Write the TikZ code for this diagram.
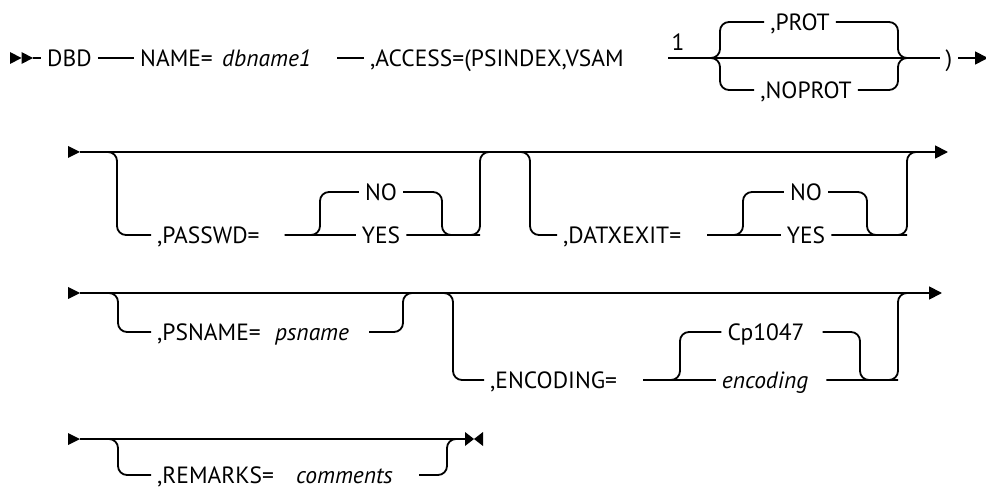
\documentclass[tikz,border=0pt]{standalone}
\usepackage{fontspec}
\setmainfont{PT Sans}
\usetikzlibrary{arrows.meta}
\tikzset{
  rail/.style={line width=1.8pt, rounded corners=9pt},
  railend/.style={rail, -{Triangle[length=13pt,width=13pt]}},
  kwbox/.style={anchor=west, inner xsep=6pt, inner ysep=0pt,
    text height=16.5pt, text depth=0pt, font=\fontsize{23.5}{26}\selectfont},
  varbox/.style={kwbox, font=\fontsize{23.5}{26}\selectfont\itshape},
  optbox/.style={kwbox, anchor=center},
  startmark/.pic={\fill (0,-6) -- (11.5,0) -- (0,6) -- cycle;
    \fill (11.5,-6) -- (23,0) -- (11.5,6) -- cycle;},
  arrowmark/.pic={\fill (0,-6) -- (12,0) -- (0,6) -- cycle;},
  endmark/.pic={\fill (0,-7) -- (9,0) -- (0,7) -- cycle;
    \fill (18,-7) -- (9,0) -- (18,7) -- cycle;}
}
\begin{document}
\begin{tikzpicture}[x=1pt, y=-1pt]
  \useasboundingbox (0,0) rectangle (986,489);

  % first line
  \pic at (10,58) {startmark};
  \coordinate (r1s) at (33,58);
  \node[kwbox] (dbd) at (41,58) {DBD};
  \node[kwbox] (name) at (134,58) {NAME=};
  \node[varbox] (dbname) at (216,58) {dbname1};
  \node[kwbox] (access) at (364,58) {,ACCESS=(PSINDEX,VSAM};
  \coordinate (fn) at (668,58);
  \node[optbox] (note) at (678,42) {1};
  \node[optbox] (prot) at (800,22) {,PROT};
  \node[optbox] (noprot) at (806,90) {,NOPROT};
  \coordinate (pt) at (720,22);
  \coordinate (pb) at (720,90);
  \coordinate (rb) at (898,58);
  \node[optbox] (paren) at (949,58) {)};
  \coordinate (r1e) at (988,58);

  \draw[rail] (r1s) -- (dbd);
  \draw[rail] (dbd) -- (name);
  \draw[rail, shorten <=20pt] (dbname) -- (access);
  \draw[rail] (fn) -- (paren);
  \draw[rail] (fn) -| (pt) -- (prot);
  \draw[rail] (fn) -| (pb) -- (noprot);
  \draw[rail] (prot) -| (rb) -- (paren);
  \draw[rail] (noprot) -| (rb) -- (paren);
  \draw[railend] (paren) -- (r1e);

  % second line
  \pic at (68,152) {arrowmark};
  \coordinate (r2s) at (80,152);
  \coordinate (r2e) at (948,152);
  \draw[railend] (r2s) -- (r2e);

  \coordinate (pwl) at (117,235);
  \node[kwbox] (passwd) at (151,235) {,PASSWD=};
  \node[optbox] (pwno) at (381,192) {NO};
  \node[optbox] (pwyes) at (381,235) {YES};
  \coordinate (pwa) at (320,192);
  \coordinate (pwb) at (442,235);
  \coordinate (pwr) at (480,235);
  \coordinate (pwj) at (492,152);
  \draw[rail] (r2s) -| (pwl) -- (passwd);
  \draw[rail, shorten <=19pt] (passwd) -- (pwyes);
  \draw[rail, shorten <=19pt] (passwd) -| (pwa) -- (pwno);
  \draw[rail] (pwno) -| (pwb) -- (pwr);
  \draw[rail] (pwyes) -- (pwr) |- (pwj);

  \coordinate (dxl) at (530,235);
  \node[kwbox] (datx) at (557,235) {,DATXEXIT=};
  \node[optbox] (dxno) at (806,192) {NO};
  \node[optbox] (dxyes) at (806,235) {YES};
  \coordinate (dxa) at (743,192);
  \coordinate (dxb) at (867,235);
  \coordinate (dxr) at (907,235);
  \coordinate (dxj) at (919,152);
  \draw[rail] (pwj) -| (dxl) -- (datx);
  \draw[rail, shorten <=20pt] (datx) -- (dxyes);
  \draw[rail, shorten <=20pt] (datx) -| (dxa) -- (dxno);
  \draw[rail] (dxno) -| (dxb) -- (dxr);
  \draw[rail] (dxyes) -- (dxr) |- (dxj);

  % third line
  \pic at (68,293) {arrowmark};
  \coordinate (r3s) at (80,293);
  \coordinate (r3e) at (942,293);
  \draw[railend] (r3s) -- (r3e);

  \coordinate (psl) at (118,332);
  \node[kwbox] (psn) at (151,332) {,PSNAME=};
  \node[varbox] (psvar) at (269,332) {psname};
  \coordinate (psr) at (403,332);
  \coordinate (psj) at (415,293);
  \draw[rail] (r3s) -| (psl) -- (psn);
  \draw[rail, shorten <=14pt] (psvar) -- (psr) |- (psj);

  \coordinate (enl) at (453,380);
  \node[kwbox] (enc) at (484,380) {,ENCODING=};
  \node[optbox] (encp) at (766,332) {Cp1047};
  \node[optbox, font=\fontsize{23.5}{26}\selectfont\itshape] (envar) at (765,380) {encoding};
  \coordinate (ena) at (680,332);
  \coordinate (enb) at (860,380);
  \coordinate (enr) at (898,380);
  \coordinate (enj) at (910,293);
  \draw[rail] (psj) -| (enl) -- (enc);
  \draw[rail, shorten <=20pt] (enc) -- (envar);
  \draw[rail, shorten <=20pt] (enc) -| (ena) -- (encp);
  \draw[rail, shorten <=12pt] (encp) -| (enb) -- (enr);
  \draw[rail, shorten <=12pt] (envar) -- (enr) |- (enj);

  % fourth line
  \pic at (68,439) {arrowmark};
  \coordinate (r4s) at (80,439);
  \coordinate (r4e) at (465,439);
  \draw[rail] (r4s) -- (r4e);
  \pic at (465,439) {endmark};

  \coordinate (rml) at (118,475);
  \node[kwbox] (rem) at (151,475) {,REMARKS=};
  \node[varbox] (remvar) at (290,475) {comments};
  \coordinate (rmr) at (447,475);
  \coordinate (rmj) at (459,439);
  \draw[rail] (r4s) -| (rml) -- (rem);
  \draw[rail, shorten <=20pt] (remvar) -- (rmr) |- (rmj);
\end{tikzpicture}
\end{document}
